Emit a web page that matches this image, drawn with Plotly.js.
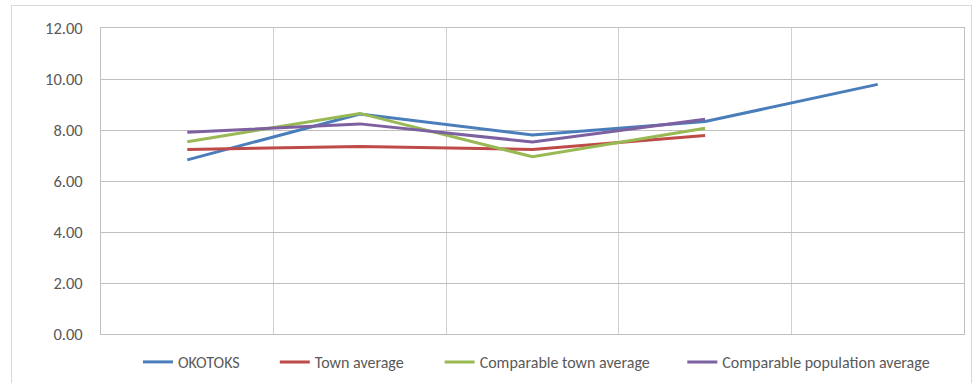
<!DOCTYPE html>
<html>
<head>
<meta charset="utf-8">
<script src="https://cdn.plot.ly/plotly-3.0.1.min.js"></script>
<style>
  html, body { margin: 0; padding: 0; background: #fff; overflow: hidden; }
  #wrap { position: relative; width: 972px; height: 383px; overflow: hidden; }
  #chart { position: absolute; left: 0; top: 0; width: 972px; height: 383px; }
  #frame { position: absolute; left: 11px; top: 5px; width: 959px; height: 390px; border: 1px solid #d9d9d9; pointer-events: none; }
</style>
</head>
<body>
<div id="wrap">
  <div id="chart"></div>
  <div id="frame"></div>
</div>
<script>
// Data
const categories = ["1", "2", "3", "4", "5"];
const okotoks = [6.83, 8.63, 7.80, 8.33, 9.79];
const townAverage = [7.24, 7.35, 7.24, 7.78];
const comparableTownAverage = [7.54, 8.65, 6.95, 8.07];
const comparablePopulationAverage = [7.91, 8.24, 7.53, 8.42];
const yTickVals = [0, 2, 4, 6, 8, 10, 12];
const yTickText = ["0.00", "2.00", "4.00", "6.00", "8.00", "10.00", "12.00"];

const seriesNames = ["OKOTOKS", "Town average", "Comparable town average", "Comparable population average"];
const seriesValues = [okotoks, townAverage, comparableTownAverage, comparablePopulationAverage];
const seriesColors = ["#4a7ebb", "#be4b48", "#98b954", "#7d60a0"];
const legendIds = ["legend", "legend2", "legend3", "legend4"];
const legendX = [0.0428, 0.2014, 0.3924, 0.6736];

const traces = seriesValues.map((vals, i) => ({
  type: "scatter",
  mode: "lines",
  name: seriesNames[i],
  legend: legendIds[i],
  x: categories.slice(0, vals.length),
  y: vals,
  line: { color: seriesColors[i], width: 3 },
  hoverinfo: "skip"
}));

const fontFamily = "Carlito, Calibri, 'Liberation Sans', Arial, sans-serif";

const layout = {
  width: 972,
  height: 383,
  margin: { l: 101, r: 8, t: 28, b: 49, autoexpand: false },
  paper_bgcolor: "rgba(0,0,0,0)",
  plot_bgcolor: "#ffffff",
  font: { family: fontFamily, size: 16, color: "#595959" },
  showlegend: true,
  xaxis: {
    type: "category",
    categoryorder: "array",
    categoryarray: categories,
    range: [-0.5, 4.5],
    tickson: "boundaries",
    showticklabels: false,
    ticks: "",
    showgrid: true,
    gridcolor: "#d0d0d0",
    gridwidth: 1,
    showline: true,
    linecolor: "#bfbfbf",
    linewidth: 1,
    mirror: true,
    zeroline: false,
    fixedrange: true
  },
  yaxis: {
    range: [0, 12],
    tickvals: yTickVals,
    ticktext: yTickText,
    ticks: "outside",
    ticklen: 14,
    tickcolor: "rgba(0,0,0,0)",
    showgrid: true,
    gridcolor: "#bfbfbf",
    gridwidth: 1,
    showline: true,
    linecolor: "#bfbfbf",
    linewidth: 1,
    mirror: true,
    zeroline: false,
    tickfont: { family: fontFamily, size: 16.5, color: "#595959" },
    fixedrange: true
  }
};

legendIds.forEach((id, i) => {
  layout[id] = {
    orientation: "h",
    x: legendX[i], xanchor: "left",
    y: -0.0915, yanchor: "middle",
    font: { family: fontFamily, size: 16, color: "#595959" },
    itemwidth: 30,
    bgcolor: "rgba(0,0,0,0)"
  };
});

Plotly.newPlot("chart", traces, layout, { displayModeBar: false, staticPlot: true });
</script>
</body>
</html>
